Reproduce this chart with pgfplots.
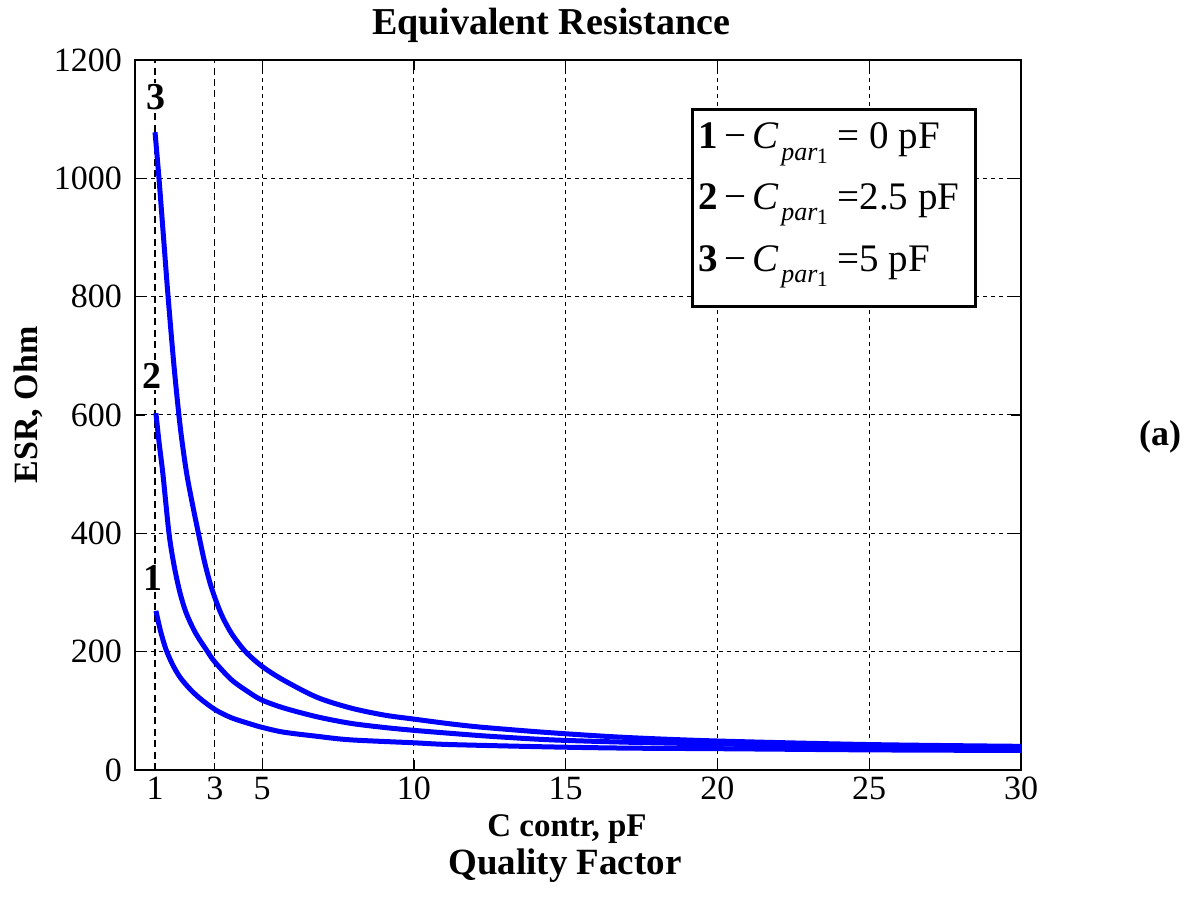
\documentclass[border=0pt]{standalone}
\usepackage{fontspec}
\setmainfont{Liberation Serif}
\usepackage{pgfplots}
\pgfplotsset{compat=1.18}
\usepackage{pgfplotstable}

\pgfplotstableread{
x y
1.47 1078
1.60 1000
1.75 900
1.90 800
2.10 680
2.30 580
2.50 505
2.70 450
2.90 400
3.10 352
3.30 313
3.50 283
3.70 258
4.00 230
4.45 200
5.00 175
5.70 152
6.80 123
7.90 105
9.00 93
10.0 86
11.2 78
12.3 72
14.5 63
17.0 55
20.0 49
25.0 43
30.0 40
}\curvethree

\pgfplotstableread{
x y
1.50 603
1.60 555
1.73 500
1.93 400
2.10 345
2.29 300
2.50 265
2.80 232
3.20 200
3.45 182
4.00 152
4.60 130
5.00 118
5.70 105
6.80 90
7.90 79
9.00 72
10.0 67
11.2 62
12.5 57
14.5 51
17.0 47
20.0 44
25.0 40
30.0 37
}\curvetwo

\pgfplotstableread{
x y
1.50 269
1.65 235
1.83 204
2.05 178
2.29 157
2.60 138
2.95 121
3.45 102
4.00 88
4.60 78
5.00 72
5.70 64
6.80 57
7.90 51
10.0 46
11.2 43
14.5 39
17.0 37
20.0 36
25.0 34
30.0 33
}\curveone

\newcommand{\cpar}{\textit{C}\kern1pt\raisebox{-0.65ex}{\fontsize{13}{13}\selectfont\textit{par}\kern-0.3pt\raisebox{-0.3ex}{\fontsize{11}{11}\selectfont 1}}}

\begin{document}
\begin{tikzpicture}
\begin{axis}[
  at={(0,0)}, anchor=south west,
  scale only axis, width=443pt, height=355pt,
  xmin=0.81, xmax=30, ymin=0, ymax=1200,
  xtick={5,10,...,30}, ytick={0,200,...,1200},
  extra x ticks={1.47,3.44}, extra x tick labels={1,3},
  extra x tick style={major tick length=0pt, grid=major,
    major grid style={black, line width=0.65pt, dash pattern=on 3.5pt off 2.2pt}},
  grid=major,
  major grid style={black, line width=0.5pt, dash pattern=on 2pt off 2pt},
  tick align=inside, major tick length=5pt,
  tick style={black, line width=0.6pt},
  axis line style={black, line width=0.8pt},
  ticklabel style={font=\fontsize{17}{18}\selectfont},
  /pgf/number format/assume math mode=true,
  scaled y ticks=false,
  yticklabel style={/pgf/number format/1000 sep={}, xshift=-3pt},
]
\addplot[blue, line width=2.5pt, line join=round, smooth, tension=0.5] table[x=x,y=y] {\curvethree};
\addplot[blue, line width=2.5pt, line join=round, smooth, tension=0.5] table[x=x,y=y] {\curvetwo};
\addplot[blue, line width=2.5pt, line join=round, smooth, tension=0.5] table[x=x,y=y] {\curveone};
\end{axis}
% curve labels
\node[fill=white, inner sep=0.5pt, font=\bfseries\fontsize{19}{19}\selectfont] at (10.5pt,336.5pt) {3};
\node[fill=white, inner sep=0.5pt, font=\bfseries\fontsize{19}{19}\selectfont] at (8.5pt,197pt) {2};
\node[fill=white, inner sep=0.5pt, font=\bfseries\fontsize{19}{19}\selectfont] at (9pt,96pt) {1};
% legend box
\draw[black, line width=1.5pt, fill=white] (278.5pt,330pt) rectangle (420pt,231.5pt);
\node[anchor=west, inner sep=0pt, font=\fontsize{19.5}{19.5}\selectfont] at (281.5pt,313pt) {\textbf{1}\,−\,\cpar\ = 0 pF};
\node[anchor=west, inner sep=0pt, font=\fontsize{19.5}{19.5}\selectfont] at (281.5pt,282.5pt) {\textbf{2}\,−\,\cpar\ =2.5 pF};
\node[anchor=west, inner sep=0pt, font=\fontsize{19.5}{19.5}\selectfont] at (281.5pt,251.5pt) {\textbf{3}\,−\,\cpar\ =5 pF};
% titles and labels
\node[font=\bfseries\fontsize{19}{20}\selectfont] at (208pt,372.5pt) {Equivalent Resistance};
\node[font=\bfseries\fontsize{16.5}{17}\selectfont] at (216pt,-29.5pt) {C contr, pF};
\node[font=\bfseries\fontsize{18.5}{19}\selectfont] at (215pt,-48pt) {Quality Factor};
\node[font=\bfseries\fontsize{17}{18}\selectfont, rotate=90] at (-53.5pt,182.5pt) {ESR, Ohm};
\node[font=\bfseries\fontsize{18}{19}\selectfont] at (512.5pt,166.5pt) {(a)};
\pgfresetboundingbox
\path (-67.5pt,-64.5pt) rectangle (528.5pt,385pt);
\end{tikzpicture}
\end{document}
